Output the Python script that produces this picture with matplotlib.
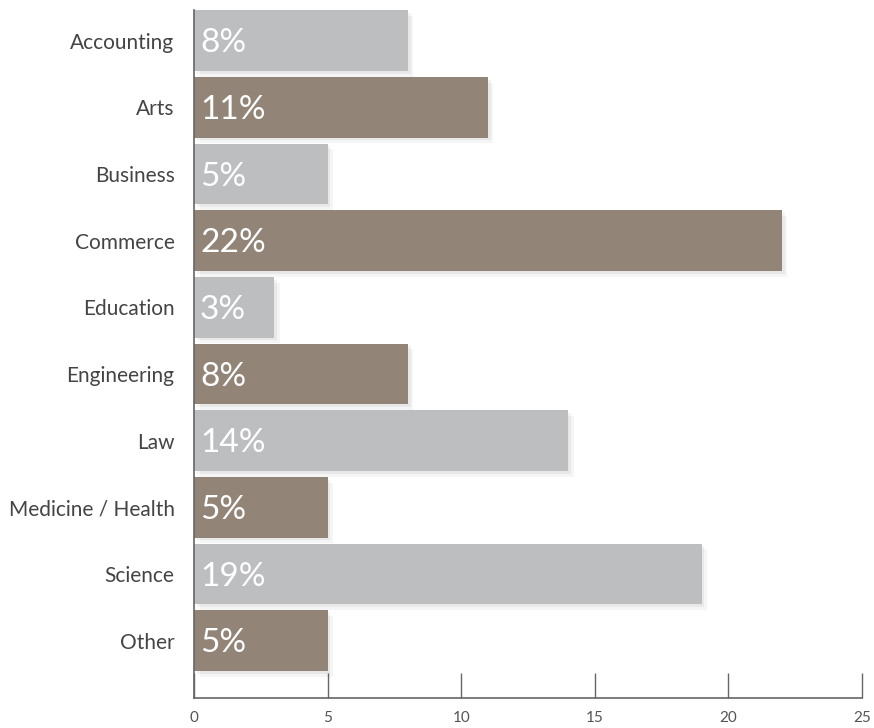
import matplotlib
matplotlib.use("Agg")
import matplotlib.pyplot as plt
import matplotlib.patheffects as pe

categories = ["Accounting", "Arts", "Business", "Commerce", "Education",
              "Engineering", "Law", "Medicine / Health", "Science", "Other"]
values = [8, 11, 5, 22, 3, 8, 14, 5, 19, 5]
labels = ["8%", "11%", "5%", "22%", "3%", "8%", "14%", "5%", "19%", "5%"]
xticks = [0, 5, 10, 15, 20, 25]

gray = "#BDBEC0"
brown = "#928578"
colors = [gray if i % 2 == 0 else brown for i in range(len(categories))]

plt.rcParams['font.family'] = ['Lato', 'DejaVu Sans']

fig = plt.figure(figsize=(8.74, 7.28), dpi=100)
ax = fig.add_axes([194/874, 30/728, (862-194)/874, (698-10)/728])

y = list(range(len(categories)))
bars = ax.barh(y, values, height=0.91, color=colors, zorder=2)
for b in bars:
    b.set_path_effects([
        pe.SimplePatchShadow(offset=(4, -4), shadow_rgbFace="#000000", alpha=0.04),
        pe.SimplePatchShadow(offset=(2, -2), shadow_rgbFace="#000000", alpha=0.05),
        pe.Normal()])

for yi, lab in zip(y, labels):
    ax.text(0.22, yi + 0.04, lab, color="white", fontsize=24, fontweight="normal",
            va="center", ha="left", zorder=3)

ax.set_xlim(0, 25)
ax.set_ylim(9.86, -0.46)
ax.set_yticks(y)
ax.set_yticklabels(categories, fontsize=15, fontweight="normal", color="#444444")
ax.tick_params(axis="y", length=0, pad=14)
ax.set_xticks(xticks)
ax.set_xticklabels([str(t) for t in xticks], fontsize=11, fontweight="normal", color="#555555")
ax.tick_params(axis="x", direction="in", length=18, width=1, color="#666666", pad=9)
for s in ["top", "right"]:
    ax.spines[s].set_visible(False)
for s in ["left", "bottom"]:
    ax.spines[s].set_color("#666666")
    ax.spines[s].set_linewidth(1.2)

fig.savefig("out.png", dpi=100)
